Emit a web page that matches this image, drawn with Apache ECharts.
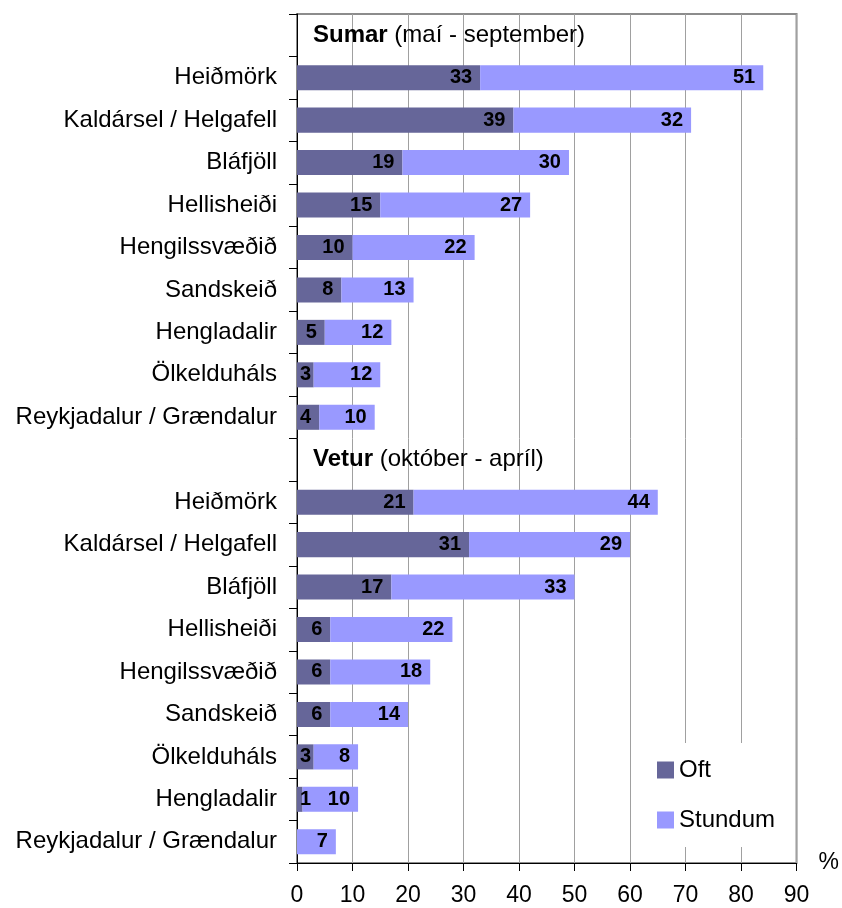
<!DOCTYPE html>
<html>
<head>
<meta charset="utf-8">
<script src="https://cdn.jsdelivr.net/npm/echarts@6/dist/echarts.min.js"></script>
<style>
  html, body { margin: 0; padding: 0; background: #fff; }
  #chart { width: 842px; height: 908px; }
</style>
</head>
<body>
<div id="chart"></div>
<script>
// staðir (sama röð og á myndinni)
const sumarPlaces = ["Heiðmörk", "Kaldársel / Helgafell", "Bláfjöll", "Hellisheiði", "Hengilssvæðið", "Sandskeið", "Hengladalir", "Ölkelduháls", "Reykjadalur / Grændalur"];
const veturPlaces = ["Heiðmörk", "Kaldársel / Helgafell", "Bláfjöll", "Hellisheiði", "Hengilssvæðið", "Sandskeið", "Ölkelduháls", "Hengladalir", "Reykjadalur / Grændalur"];

// gildi í %
const sumarOft = [33, 39, 19, 15, 10, 8, 5, 3, 4];
const sumarStundum = [51, 32, 30, 27, 22, 13, 12, 12, 10];
const veturOft = [21, 31, 17, 6, 6, 6, 3, 1, 0];
const veturStundum = [44, 29, 33, 22, 18, 14, 8, 10, 7];

// fyrirsagnir hópanna
const groupTitles = ["Sumar", "Vetur"];
const groupNotes = ["(maí - september)", "(október - apríl)"];

const xTicks = { min: 0, max: 90, interval: 10 };

const FONT = "Liberation Sans, Arial, sans-serif";
const TXT = 24;  // flokkar, fyrirsagnir, skýringar
const TICK = 23; // tölur á x-ás
const PX_PER_UNIT = (842 - 41 - 297) / 90;

// stuttar súlur: tala vinstramegin ef hún kemst ekki fyrir
function barLabelOpt(v) {
  const w = v * PX_PER_UNIT;
  const tw = String(v).length * 11;
  return w < tw + 16
    ? { position: "insideLeft", distance: 3 }
    : { position: "insideRight", distance: 8 };
}

const groups = [
  { places: sumarPlaces, oft: sumarOft, stundum: sumarStundum },
  { places: veturPlaces, oft: veturOft, stundum: veturStundum },
];
const categories = [];
const oftData = [];
const stundumData = [];
groups.forEach((g, gi) => {
  categories.push("");
  oftData.push({
    value: 0,
    label: {
      show: true,
      position: "right",
      distance: 16,
      formatter: "{b|" + groupTitles[gi] + "} " + groupNotes[gi],
      fontSize: TXT,
      fontWeight: "normal",
      color: "#000",
      fontFamily: FONT,
      rich: { b: { fontWeight: "bold", fontSize: TXT, fontFamily: FONT, color: "#000" } },
    },
  });
  stundumData.push("-");
  g.places.forEach((p, i) => {
    categories.push(p);
    oftData.push({ value: g.oft[i], label: barLabelOpt(g.oft[i]) });
    stundumData.push({ value: g.stundum[i], label: barLabelOpt(g.stundum[i]) });
  });
});

const barLabel = {
  show: true,
  position: "insideRight",
  distance: 8,
  fontSize: 20,
  fontWeight: "bold",
  color: "#000",
  fontFamily: FONT,
  formatter: (p) => (p.value ? String(p.value) : ""),
};

const myChart = echarts.init(document.getElementById("chart"));
const option = {
  animation: false,
  textStyle: { fontFamily: FONT },
  grid: {
    left: 297,
    right: 41,
    top: 14,
    bottom: 45,
    show: true,
    borderColor: "#8c8c8c",
    borderWidth: 2,
    backgroundColor: "transparent",
  },
  legend: {
    orient: "vertical",
    left: 640,
    top: 743,
    padding: [15, 14, 15, 17],
    itemGap: 26,
    itemWidth: 17,
    itemHeight: 17,
    icon: "rect",
    backgroundColor: "#fff",
    textStyle: { fontSize: TXT, color: "#000", fontFamily: FONT },
    data: ["Oft", "Stundum"],
  },
  xAxis: {
    type: "value",
    min: xTicks.min,
    max: xTicks.max,
    interval: xTicks.interval,
    name: "%",
    nameLocation: "end",
    nameGap: 22,
    nameTextStyle: { fontSize: TICK, color: "#000", fontFamily: FONT, verticalAlign: "middle" },
    axisLine: { show: true, lineStyle: { color: "#000", width: 1 } },
    axisTick: { show: true, length: 8, lineStyle: { color: "#000" } },
    axisLabel: { fontSize: TICK, color: "#000", margin: 21, fontFamily: FONT },
    splitLine: { show: true, lineStyle: { color: "#a0a0a0", width: 1 } },
  },
  yAxis: {
    type: "category",
    inverse: true,
    data: categories,
    axisLine: { show: true, lineStyle: { color: "#000", width: 1 } },
    axisTick: { show: true, length: 8, lineStyle: { color: "#000" } },
    axisLabel: { fontSize: TXT, color: "#000", margin: 20, fontFamily: FONT },
    splitLine: { show: false },
  },
  series: [
    {
      name: "Oft",
      type: "bar",
      stack: "all",
      data: oftData,
      barCategoryGap: "41%",
      itemStyle: { color: "#666699" },
      label: barLabel,
    },
    {
      name: "Stundum",
      type: "bar",
      stack: "all",
      data: stundumData,
      barCategoryGap: "41%",
      itemStyle: { color: "#9999ff" },
      label: barLabel,
    },
  ],
};
myChart.setOption(option);
</script>
</body>
</html>
